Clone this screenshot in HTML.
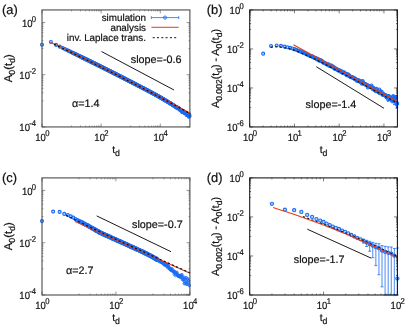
<!DOCTYPE html>
<html><head><meta charset="utf-8"><title>fig</title>
<style>
html,body{margin:0;padding:0;background:#fff;}
body{width:415px;height:336px;overflow:hidden;}
svg{display:block;filter:blur(0.42px);font-family:"Liberation Sans",sans-serif;}
text{fill:#111;stroke:#111;stroke-width:0.2px;text-rendering:geometricPrecision;}
</style></head><body>
<svg width="415" height="336" viewBox="0 0 415 336">
<rect width="415" height="336" fill="#fff"/>
<g fill="#1a6cf5" fill-opacity="0.3" stroke="#1a6cf5" stroke-width="1.1">
<circle cx="42.00" cy="44.80" r="1.50"/>
<circle cx="50.90" cy="42.00" r="1.50"/>
<circle cx="56.11" cy="44.90" r="1.50"/>
<circle cx="59.81" cy="46.65" r="1.50"/>
<circle cx="62.68" cy="48.02" r="1.50"/>
<circle cx="65.02" cy="49.14" r="1.50"/>
<circle cx="67.00" cy="50.08" r="1.50"/>
<circle cx="68.71" cy="50.91" r="1.50"/>
<circle cx="70.23" cy="51.63" r="1.50"/>
<circle cx="71.58" cy="52.29" r="1.50"/>
<circle cx="72.80" cy="52.88" r="1.50"/>
<circle cx="73.92" cy="53.42" r="1.50"/>
<circle cx="74.95" cy="53.91" r="1.50"/>
<circle cx="75.90" cy="54.37" r="1.50"/>
<circle cx="76.79" cy="54.80" r="1.50"/>
<circle cx="77.62" cy="55.20" r="1.50"/>
<circle cx="78.40" cy="55.58" r="1.50"/>
<circle cx="79.13" cy="55.94" r="1.50"/>
<circle cx="79.83" cy="56.28" r="1.50"/>
<circle cx="80.48" cy="56.60" r="1.50"/>
<circle cx="80.85" cy="56.78" r="1.50"/>
<circle cx="81.22" cy="56.96" r="1.50"/>
<circle cx="81.59" cy="57.14" r="1.50"/>
<circle cx="81.96" cy="57.32" r="1.50"/>
<circle cx="82.33" cy="57.50" r="1.50"/>
<circle cx="82.70" cy="57.68" r="1.50"/>
<circle cx="83.07" cy="57.86" r="1.50"/>
<circle cx="83.44" cy="58.04" r="1.50"/>
<circle cx="83.81" cy="58.22" r="1.50"/>
<circle cx="84.18" cy="58.40" r="1.50"/>
<circle cx="84.55" cy="58.58" r="1.50"/>
<circle cx="84.92" cy="58.76" r="1.50"/>
<circle cx="85.29" cy="58.94" r="1.50"/>
<circle cx="85.66" cy="59.12" r="1.50"/>
<circle cx="86.03" cy="59.31" r="1.50"/>
<circle cx="86.40" cy="59.49" r="1.50"/>
<circle cx="86.77" cy="59.67" r="1.50"/>
<circle cx="87.14" cy="59.85" r="1.50"/>
<circle cx="87.51" cy="60.03" r="1.50"/>
<circle cx="87.88" cy="60.21" r="1.50"/>
<circle cx="88.25" cy="60.39" r="1.50"/>
<circle cx="88.62" cy="60.57" r="1.50"/>
<circle cx="88.99" cy="60.76" r="1.50"/>
<circle cx="89.36" cy="60.94" r="1.50"/>
<circle cx="89.73" cy="61.12" r="1.50"/>
<circle cx="90.10" cy="61.30" r="1.50"/>
<circle cx="90.47" cy="61.48" r="1.50"/>
<circle cx="90.84" cy="61.67" r="1.50"/>
<circle cx="91.21" cy="61.85" r="1.50"/>
<circle cx="91.58" cy="62.03" r="1.50"/>
<circle cx="91.95" cy="62.21" r="1.50"/>
<circle cx="92.32" cy="62.39" r="1.50"/>
<circle cx="92.69" cy="62.58" r="1.50"/>
<circle cx="93.06" cy="62.76" r="1.50"/>
<circle cx="93.43" cy="62.94" r="1.50"/>
<circle cx="93.80" cy="63.12" r="1.50"/>
<circle cx="94.17" cy="63.31" r="1.50"/>
<circle cx="94.53" cy="63.49" r="1.50"/>
<circle cx="94.90" cy="63.67" r="1.50"/>
<circle cx="95.27" cy="63.86" r="1.50"/>
<circle cx="95.64" cy="64.04" r="1.50"/>
<circle cx="96.01" cy="64.22" r="1.50"/>
<circle cx="96.38" cy="64.41" r="1.50"/>
<circle cx="96.75" cy="64.59" r="1.50"/>
<circle cx="97.12" cy="64.77" r="1.50"/>
<circle cx="97.49" cy="64.96" r="1.50"/>
<circle cx="97.86" cy="65.14" r="1.50"/>
<circle cx="98.23" cy="65.32" r="1.50"/>
<circle cx="98.60" cy="65.51" r="1.50"/>
<circle cx="98.97" cy="65.69" r="1.50"/>
<circle cx="99.34" cy="65.87" r="1.50"/>
<circle cx="99.71" cy="66.06" r="1.50"/>
<circle cx="100.08" cy="66.24" r="1.50"/>
<circle cx="100.45" cy="66.42" r="1.50"/>
<circle cx="100.82" cy="66.61" r="1.50"/>
<circle cx="101.19" cy="66.79" r="1.50"/>
<circle cx="101.56" cy="66.98" r="1.50"/>
<circle cx="101.93" cy="67.16" r="1.50"/>
<circle cx="102.30" cy="67.35" r="1.50"/>
<circle cx="102.67" cy="67.53" r="1.50"/>
<circle cx="103.04" cy="67.71" r="1.50"/>
<circle cx="103.41" cy="67.90" r="1.50"/>
<circle cx="103.78" cy="68.08" r="1.50"/>
<circle cx="104.15" cy="68.27" r="1.50"/>
<circle cx="104.52" cy="68.45" r="1.50"/>
<circle cx="104.89" cy="68.64" r="1.50"/>
<circle cx="105.26" cy="68.82" r="1.50"/>
<circle cx="105.63" cy="69.01" r="1.50"/>
<circle cx="106.00" cy="69.19" r="1.50"/>
<circle cx="106.37" cy="69.38" r="1.50"/>
<circle cx="106.74" cy="69.56" r="1.50"/>
<circle cx="107.11" cy="69.75" r="1.50"/>
<circle cx="107.48" cy="69.93" r="1.50"/>
<circle cx="107.85" cy="70.12" r="1.50"/>
<circle cx="108.22" cy="70.31" r="1.50"/>
<circle cx="108.59" cy="70.49" r="1.50"/>
<circle cx="108.96" cy="70.68" r="1.50"/>
<circle cx="109.32" cy="70.86" r="1.50"/>
<circle cx="109.69" cy="71.05" r="1.50"/>
<circle cx="110.06" cy="71.23" r="1.50"/>
<circle cx="110.43" cy="71.42" r="1.50"/>
<circle cx="110.80" cy="71.61" r="1.50"/>
<circle cx="111.17" cy="71.79" r="1.50"/>
<circle cx="111.54" cy="71.98" r="1.50"/>
<circle cx="111.91" cy="72.17" r="1.50"/>
<circle cx="112.28" cy="72.35" r="1.50"/>
<circle cx="112.65" cy="72.54" r="1.50"/>
<circle cx="113.02" cy="72.72" r="1.50"/>
<circle cx="113.39" cy="72.91" r="1.50"/>
<circle cx="113.76" cy="73.10" r="1.50"/>
<circle cx="114.13" cy="73.29" r="1.50"/>
<circle cx="114.50" cy="73.47" r="1.50"/>
<circle cx="114.87" cy="73.66" r="1.50"/>
<circle cx="115.24" cy="73.85" r="1.50"/>
<circle cx="115.61" cy="74.03" r="1.50"/>
<circle cx="115.98" cy="74.22" r="1.50"/>
<circle cx="116.35" cy="74.41" r="1.50"/>
<circle cx="116.72" cy="74.59" r="1.50"/>
<circle cx="117.09" cy="74.78" r="1.50"/>
<circle cx="117.46" cy="74.97" r="1.50"/>
<circle cx="117.83" cy="75.16" r="1.50"/>
<circle cx="118.20" cy="75.34" r="1.50"/>
<circle cx="118.57" cy="75.53" r="1.50"/>
<circle cx="118.94" cy="75.72" r="1.50"/>
<circle cx="119.31" cy="75.91" r="1.50"/>
<circle cx="119.68" cy="76.10" r="1.50"/>
<circle cx="120.05" cy="76.28" r="1.50"/>
<circle cx="120.42" cy="76.47" r="1.50"/>
<circle cx="120.79" cy="76.66" r="1.50"/>
<circle cx="121.16" cy="76.85" r="1.50"/>
<circle cx="121.53" cy="77.04" r="1.50"/>
<circle cx="121.90" cy="77.22" r="1.50"/>
<circle cx="122.27" cy="77.41" r="1.50"/>
<circle cx="122.64" cy="77.60" r="1.50"/>
<circle cx="123.01" cy="77.79" r="1.50"/>
<circle cx="123.38" cy="77.98" r="1.50"/>
<circle cx="123.75" cy="78.17" r="1.50"/>
<circle cx="124.11" cy="78.36" r="1.50"/>
<circle cx="124.48" cy="78.55" r="1.50"/>
<circle cx="124.85" cy="78.73" r="1.50"/>
<circle cx="125.22" cy="78.92" r="1.50"/>
<circle cx="125.59" cy="79.11" r="1.50"/>
<circle cx="125.96" cy="79.30" r="1.50"/>
<circle cx="126.33" cy="79.49" r="1.50"/>
<circle cx="126.70" cy="79.68" r="1.50"/>
<circle cx="127.07" cy="79.87" r="1.50"/>
<circle cx="127.44" cy="80.06" r="1.50"/>
<circle cx="127.81" cy="80.25" r="1.50"/>
<circle cx="128.18" cy="80.44" r="1.50"/>
<circle cx="128.55" cy="80.63" r="1.50"/>
<circle cx="128.92" cy="80.82" r="1.50"/>
<circle cx="129.29" cy="81.01" r="1.50"/>
<circle cx="129.66" cy="81.20" r="1.50"/>
<circle cx="130.03" cy="81.39" r="1.50"/>
<circle cx="130.40" cy="81.58" r="1.50"/>
<circle cx="130.77" cy="81.77" r="1.50"/>
<circle cx="131.14" cy="81.96" r="1.50"/>
<circle cx="131.51" cy="82.15" r="1.50"/>
<circle cx="131.88" cy="82.34" r="1.50"/>
<circle cx="132.25" cy="82.53" r="1.50"/>
<circle cx="132.62" cy="82.72" r="1.50"/>
<circle cx="132.99" cy="82.91" r="1.50"/>
<circle cx="133.36" cy="83.10" r="1.50"/>
<circle cx="133.73" cy="83.29" r="1.50"/>
<circle cx="134.10" cy="83.48" r="1.50"/>
<circle cx="134.47" cy="83.67" r="1.50"/>
<circle cx="134.84" cy="83.86" r="1.50"/>
<circle cx="135.21" cy="84.06" r="1.50"/>
<circle cx="135.58" cy="84.25" r="1.50"/>
<circle cx="135.95" cy="84.44" r="1.50"/>
<circle cx="136.32" cy="84.63" r="1.50"/>
<circle cx="136.69" cy="84.82" r="1.50"/>
<circle cx="137.06" cy="85.01" r="1.50"/>
<circle cx="137.43" cy="85.20" r="1.50"/>
<circle cx="137.80" cy="85.39" r="1.50"/>
<circle cx="138.17" cy="85.59" r="1.50"/>
<circle cx="138.54" cy="85.78" r="1.50"/>
<circle cx="138.90" cy="85.97" r="1.50"/>
<circle cx="139.27" cy="86.16" r="1.50"/>
<circle cx="139.64" cy="86.35" r="1.50"/>
<circle cx="140.01" cy="86.55" r="1.50"/>
<circle cx="140.38" cy="86.74" r="1.50"/>
<circle cx="140.75" cy="86.93" r="1.50"/>
<circle cx="141.12" cy="87.12" r="1.50"/>
<circle cx="141.49" cy="87.31" r="1.50"/>
<circle cx="141.86" cy="87.51" r="1.50"/>
<circle cx="142.23" cy="87.70" r="1.50"/>
<circle cx="142.60" cy="87.89" r="1.50"/>
<circle cx="142.97" cy="88.09" r="1.50"/>
<circle cx="143.34" cy="88.28" r="1.50"/>
<circle cx="143.71" cy="88.47" r="1.50"/>
<circle cx="144.08" cy="88.66" r="1.50"/>
<circle cx="144.45" cy="88.86" r="1.50"/>
<circle cx="144.82" cy="89.05" r="1.50"/>
<circle cx="145.19" cy="89.24" r="1.50"/>
<circle cx="145.56" cy="89.44" r="1.50"/>
<circle cx="145.93" cy="89.63" r="1.50"/>
<circle cx="146.30" cy="89.82" r="1.50"/>
<circle cx="146.67" cy="90.02" r="1.50"/>
<circle cx="147.04" cy="90.21" r="1.50"/>
<circle cx="147.41" cy="90.40" r="1.50"/>
<circle cx="147.78" cy="90.60" r="1.50"/>
<circle cx="148.15" cy="90.79" r="1.50"/>
<circle cx="148.52" cy="90.98" r="1.50"/>
<circle cx="148.89" cy="91.18" r="1.50"/>
<circle cx="149.26" cy="91.37" r="1.50"/>
<circle cx="149.63" cy="91.57" r="1.50"/>
<circle cx="150.00" cy="91.76" r="1.50"/>
<circle cx="150.37" cy="91.95" r="1.50"/>
<circle cx="150.74" cy="92.15" r="1.50"/>
<circle cx="151.11" cy="92.34" r="1.50"/>
<circle cx="151.48" cy="92.54" r="1.50"/>
<circle cx="151.85" cy="92.74" r="1.50"/>
<circle cx="152.22" cy="92.94" r="1.50"/>
<circle cx="152.59" cy="93.13" r="1.50"/>
<circle cx="152.96" cy="93.33" r="1.50"/>
<circle cx="153.33" cy="93.53" r="1.50"/>
<circle cx="153.69" cy="93.73" r="1.50"/>
<circle cx="154.06" cy="93.93" r="1.50"/>
<circle cx="154.43" cy="94.13" r="1.50"/>
<circle cx="154.80" cy="94.34" r="1.50"/>
<circle cx="155.17" cy="94.54" r="1.50"/>
<circle cx="155.54" cy="94.74" r="1.50"/>
<circle cx="155.91" cy="94.95" r="1.50"/>
<circle cx="156.28" cy="95.15" r="1.50"/>
<circle cx="156.65" cy="95.36" r="1.50"/>
<circle cx="157.02" cy="95.56" r="1.50"/>
<circle cx="157.39" cy="95.77" r="1.50"/>
<circle cx="157.76" cy="95.98" r="1.50"/>
<circle cx="158.13" cy="96.18" r="1.50"/>
<circle cx="158.50" cy="96.39" r="1.50"/>
<circle cx="158.87" cy="96.60" r="1.50"/>
<circle cx="159.24" cy="96.81" r="1.50"/>
<circle cx="159.61" cy="97.02" r="1.50"/>
<circle cx="159.98" cy="97.23" r="1.50"/>
<circle cx="160.35" cy="97.45" r="1.50"/>
<circle cx="160.72" cy="97.66" r="1.50"/>
<circle cx="161.09" cy="97.87" r="1.50"/>
<circle cx="161.46" cy="98.08" r="1.50"/>
<circle cx="161.83" cy="98.30" r="1.50"/>
<circle cx="162.20" cy="98.51" r="1.50"/>
<circle cx="162.57" cy="98.73" r="1.50"/>
<circle cx="162.94" cy="98.95" r="1.50"/>
<circle cx="163.31" cy="99.16" r="1.50"/>
<circle cx="163.68" cy="99.38" r="1.50"/>
<circle cx="164.05" cy="99.60" r="1.50"/>
<circle cx="164.42" cy="99.82" r="1.50"/>
<circle cx="164.79" cy="100.04" r="1.50"/>
<circle cx="165.16" cy="100.26" r="1.50"/>
<circle cx="165.53" cy="100.48" r="1.50"/>
<circle cx="165.90" cy="100.70" r="1.50"/>
<circle cx="166.27" cy="100.92" r="1.50"/>
<circle cx="166.64" cy="101.14" r="1.50"/>
<circle cx="167.01" cy="101.37" r="1.50"/>
<circle cx="167.38" cy="101.59" r="1.50"/>
<circle cx="167.75" cy="101.81" r="1.50"/>
<circle cx="168.12" cy="102.04" r="1.50"/>
<circle cx="168.48" cy="102.26" r="1.50"/>
<circle cx="168.85" cy="102.49" r="1.50"/>
<circle cx="169.22" cy="102.72" r="1.50"/>
<circle cx="169.59" cy="102.95" r="1.50"/>
<circle cx="169.96" cy="103.17" r="1.50"/>
<circle cx="170.33" cy="103.40" r="1.50"/>
<circle cx="170.70" cy="103.63" r="1.50"/>
<circle cx="171.07" cy="103.86" r="1.50"/>
<circle cx="171.44" cy="104.09" r="1.50"/>
<circle cx="171.81" cy="104.32" r="1.50"/>
<circle cx="172.18" cy="104.55" r="1.50"/>
<circle cx="172.55" cy="104.80" r="1.50"/>
<circle cx="172.92" cy="105.01" r="1.50"/>
<circle cx="173.29" cy="105.24" r="1.50"/>
<circle cx="173.66" cy="105.41" r="1.50"/>
<circle cx="174.03" cy="105.71" r="1.50"/>
<circle cx="174.40" cy="106.10" r="1.50"/>
<circle cx="174.77" cy="106.26" r="1.50"/>
<circle cx="175.14" cy="106.60" r="1.50"/>
<circle cx="175.51" cy="106.72" r="1.50"/>
<circle cx="175.88" cy="106.99" r="1.50"/>
<circle cx="176.25" cy="107.19" r="1.50"/>
<circle cx="176.62" cy="107.01" r="1.50"/>
<circle cx="176.99" cy="107.85" r="1.50"/>
<circle cx="177.36" cy="108.01" r="1.50"/>
<circle cx="177.73" cy="108.26" r="1.50"/>
<circle cx="178.10" cy="107.84" r="1.50"/>
<circle cx="178.47" cy="108.04" r="1.50"/>
<circle cx="178.84" cy="108.54" r="1.50"/>
<circle cx="179.21" cy="108.92" r="1.50"/>
<circle cx="179.58" cy="109.45" r="1.50"/>
<circle cx="179.95" cy="109.56" r="1.50"/>
<circle cx="180.32" cy="110.04" r="1.50"/>
<circle cx="180.69" cy="109.79" r="1.50"/>
<circle cx="181.06" cy="110.46" r="1.50"/>
<circle cx="181.43" cy="110.75" r="1.50"/>
<circle cx="181.80" cy="110.49" r="1.50"/>
<circle cx="182.17" cy="111.94" r="1.50"/>
<circle cx="182.54" cy="111.61" r="1.50"/>
<circle cx="182.91" cy="112.22" r="1.50"/>
<circle cx="183.27" cy="111.47" r="1.50"/>
<circle cx="183.64" cy="111.64" r="1.50"/>
<circle cx="184.01" cy="112.12" r="1.50"/>
<circle cx="184.38" cy="112.51" r="1.50"/>
<circle cx="184.75" cy="113.23" r="1.50"/>
<circle cx="185.12" cy="113.25" r="1.50"/>
<circle cx="185.49" cy="113.04" r="1.50"/>
<circle cx="185.86" cy="112.93" r="1.50"/>
<circle cx="186.23" cy="113.48" r="1.50"/>
<circle cx="186.60" cy="115.00" r="1.50"/>
<circle cx="186.97" cy="113.76" r="1.50"/>
<circle cx="187.34" cy="114.81" r="1.50"/>
<circle cx="187.71" cy="115.22" r="1.50"/>
<circle cx="188.08" cy="113.95" r="1.50"/>
<circle cx="188.45" cy="115.44" r="1.50"/>
<circle cx="188.82" cy="116.76" r="1.50"/>
<circle cx="189.19" cy="114.20" r="1.50"/>
<circle cx="189.56" cy="115.91" r="1.50"/>
</g>
<path d="M50.60 42.30L54.09 43.94L57.57 45.59L61.06 47.25L64.54 48.91L68.03 50.58L71.51 52.25L75.00 53.93L78.48 55.62L81.97 57.32L85.45 59.02L88.94 60.73L92.42 62.45L95.91 64.17L99.39 65.90L102.88 67.63L106.36 69.38L109.84 71.12L113.33 72.88L116.81 74.64L120.30 76.41L123.78 78.19L127.27 79.97L130.75 81.76L134.24 83.56L137.72 85.36L141.21 87.17L144.69 88.98L148.18 90.81L151.67 92.64L155.15 94.47L158.64 96.31L162.12 98.16L165.60 100.02L169.09 101.88L172.57 103.75L176.06 105.63L179.54 107.51L183.03 109.40L186.52 111.30L190.00 113.20" stroke="#e63c14" stroke-width="1.15" fill="none"/>
<path d="M54.00 44.20L57.40 45.81L60.80 47.42L64.20 49.05L67.60 50.67L71.00 52.31L74.40 53.95L77.80 55.59L81.20 57.25L84.60 58.91L88.00 60.57L91.40 62.24L94.80 63.92L98.20 65.61L101.60 67.30L105.00 68.99L108.40 70.70L111.80 72.41L115.20 74.13L118.60 75.85L122.00 77.58L125.40 79.31L128.80 81.06L132.20 82.80L135.60 84.56L139.00 86.32L142.40 88.09L145.80 89.86L149.20 91.64L152.60 93.43L156.00 95.22L159.40 97.02L162.80 98.83L166.20 100.64L169.60 102.46L173.00 104.28L176.40 106.11L179.80 107.95L183.20 109.79L186.60 111.64L190.00 113.50" stroke="#111" stroke-width="1.20" fill="none" stroke-dasharray="2.1 2.4"/>
<line x1="101.50" y1="51.50" x2="174.00" y2="90.00" stroke="#1a1a1a" stroke-width="1.00"/>
<path d="M42.00 126.95L42.00 123.55M42.00 9.95L42.00 13.35M71.58 126.95L71.58 125.55M71.58 9.95L71.58 11.35M80.48 126.95L80.48 125.55M80.48 9.95L80.48 11.35M85.69 126.95L85.69 125.55M85.69 9.95L85.69 11.35M89.39 126.95L89.39 125.55M89.39 9.95L89.39 11.35M92.26 126.95L92.26 125.55M92.26 9.95L92.26 11.35M94.60 126.95L94.60 125.55M94.60 9.95L94.60 11.35M96.58 126.95L96.58 125.55M96.58 9.95L96.58 11.35M98.29 126.95L98.29 125.55M98.29 9.95L98.29 11.35M99.81 126.95L99.81 125.55M99.81 9.95L99.81 11.35M101.16 126.95L101.16 123.55M101.16 9.95L101.16 13.35M130.74 126.95L130.74 125.55M130.74 9.95L130.74 11.35M139.64 126.95L139.64 125.55M139.64 9.95L139.64 11.35M144.85 126.95L144.85 125.55M144.85 9.95L144.85 11.35M148.55 126.95L148.55 125.55M148.55 9.95L148.55 11.35M151.42 126.95L151.42 125.55M151.42 9.95L151.42 11.35M153.76 126.95L153.76 125.55M153.76 9.95L153.76 11.35M155.74 126.95L155.74 125.55M155.74 9.95L155.74 11.35M157.45 126.95L157.45 125.55M157.45 9.95L157.45 11.35M158.97 126.95L158.97 125.55M158.97 9.95L158.97 11.35M160.32 126.95L160.32 123.55M160.32 9.95L160.32 13.35M42.00 126.95L45.40 126.95M189.90 126.95L186.50 126.95M42.00 100.82L43.40 100.82M189.90 100.82L188.50 100.82M42.00 92.95L43.40 92.95M189.90 92.95L188.50 92.95M42.00 88.35L43.40 88.35M189.90 88.35L188.50 88.35M42.00 85.08L43.40 85.08M189.90 85.08L188.50 85.08M42.00 82.55L43.40 82.55M189.90 82.55L188.50 82.55M42.00 80.48L43.40 80.48M189.90 80.48L188.50 80.48M42.00 78.73L43.40 78.73M189.90 78.73L188.50 78.73M42.00 77.22L43.40 77.22M189.90 77.22L188.50 77.22M42.00 75.88L43.40 75.88M189.90 75.88L188.50 75.88M42.00 74.68L45.40 74.68M189.90 74.68L186.50 74.68M42.00 48.55L43.40 48.55M189.90 48.55L188.50 48.55M42.00 40.68L43.40 40.68M189.90 40.68L188.50 40.68M42.00 36.08L43.40 36.08M189.90 36.08L188.50 36.08M42.00 32.82L43.40 32.82M189.90 32.82L188.50 32.82M42.00 30.29L43.40 30.29M189.90 30.29L188.50 30.29M42.00 28.22L43.40 28.22M189.90 28.22L188.50 28.22M42.00 26.47L43.40 26.47M189.90 26.47L188.50 26.47M42.00 24.95L43.40 24.95M189.90 24.95L188.50 24.95M42.00 23.61L43.40 23.61M189.90 23.61L188.50 23.61M42.00 22.42L45.40 22.42M189.90 22.42L186.50 22.42" stroke="#444" stroke-width="0.55" fill="none"/>
<rect x="42.00" y="9.95" width="147.90" height="117.00" fill="none" stroke="#444" stroke-width="1.05"/>
<text transform="translate(36.10 26.82) scale(0.915 1)" text-anchor="end" font-size="10.40">10<tspan dx="-0.7" dy="-5.0" font-size="8.40">0</tspan></text>
<text transform="translate(36.10 79.08) scale(0.915 1)" text-anchor="end" font-size="10.40">10<tspan dx="-0.7" dy="-5.0" font-size="8.40">-2</tspan></text>
<text transform="translate(36.10 131.35) scale(0.915 1)" text-anchor="end" font-size="10.40">10<tspan dx="-0.7" dy="-5.0" font-size="8.40">-4</tspan></text>
<text transform="translate(42.30 141.05) scale(0.915 1)" text-anchor="middle" font-size="10.40">10<tspan dx="-0.7" dy="-5.0" font-size="8.40">0</tspan></text>
<text transform="translate(101.46 141.05) scale(0.915 1)" text-anchor="middle" font-size="10.40">10<tspan dx="-0.7" dy="-5.0" font-size="8.40">2</tspan></text>
<text transform="translate(160.62 141.05) scale(0.915 1)" text-anchor="middle" font-size="10.40">10<tspan dx="-0.7" dy="-5.0" font-size="8.40">4</tspan></text>
<text x="146.00" y="21.20" font-size="9.85" text-anchor="end">simulation</text>
<text x="146.00" y="31.10" font-size="9.85" text-anchor="end">analysis</text>
<text x="146.00" y="40.60" font-size="9.85" text-anchor="end">inv. Laplace trans.</text>
<line x1="151.40" y1="17.60" x2="178.70" y2="17.60" stroke="#1a6cf5" stroke-width="0.80"/>
<line x1="151.40" y1="16.20" x2="151.40" y2="19.00" stroke="#1a6cf5" stroke-width="0.80"/>
<line x1="178.70" y1="16.20" x2="178.70" y2="19.00" stroke="#1a6cf5" stroke-width="0.80"/>
<circle cx="165" cy="17.60" r="1.6" fill="none" stroke="#1a6cf5" stroke-width="0.9"/>
<line x1="151.40" y1="27.30" x2="178.70" y2="27.30" stroke="#e63c14" stroke-width="1.00"/>
<line x1="152.7" y1="37.7" x2="177" y2="37.7" stroke="#111" stroke-width="1.0" stroke-dasharray="2 2.3"/>
<text x="130.80" y="62.50" font-size="10.80" text-anchor="start">slope=-0.6</text>
<text x="72.00" y="107.00" font-size="10.80" text-anchor="start">α=1.4</text>
<path d="M384.02 94.15L384.02 95.48M382.82 94.15L385.22 94.15M382.82 95.48L385.22 95.48M384.62 94.95L384.62 96.50M383.42 94.95L385.82 94.95M383.42 96.50L385.82 96.50M385.22 94.59L385.22 96.37M384.02 94.59L386.42 94.59M384.02 96.37L386.42 96.37M385.81 94.62L385.81 96.62M384.61 94.62L387.01 94.62M384.61 96.62L387.01 96.62M386.41 96.39L386.41 98.62M385.21 96.39L387.61 96.39M385.21 98.62L387.61 98.62M387.01 96.19L387.01 98.64M385.81 96.19L388.21 96.19M385.81 98.64L388.21 98.64M387.60 95.15L387.60 97.83M386.40 95.15L388.80 95.15M386.40 97.83L388.80 97.83M388.20 98.33L388.20 101.23M387.00 98.33L389.40 98.33M387.00 101.23L389.40 101.23M388.80 94.80L388.80 97.92M387.60 94.80L390.00 94.80M387.60 97.92L390.00 97.92M389.39 97.12L389.39 100.48M388.19 97.12L390.59 97.12M388.19 100.48L390.59 100.48M389.99 96.09L389.99 99.67M388.79 96.09L391.19 96.09M388.79 99.67L391.19 99.67M390.59 96.81L390.59 100.62M389.39 96.81L391.79 96.81M389.39 100.62L391.79 100.62M391.18 97.87L391.18 101.90M389.98 97.87L392.38 97.87M389.98 101.90L392.38 101.90M391.78 97.47L391.78 101.72M390.58 97.47L392.98 97.47M390.58 101.72L392.98 101.72M392.38 98.41L392.38 102.89M391.18 98.41L393.58 98.41M391.18 102.89L393.58 102.89M392.97 94.96L392.97 99.67M391.77 94.96L394.17 94.96M391.77 99.67L394.17 99.67M393.57 95.06L393.57 99.99M392.37 95.06L394.77 95.06M392.37 99.99L394.77 99.99M394.16 99.31L394.16 104.46M392.96 99.31L395.36 99.31M392.96 104.46L395.36 104.46M394.76 96.34L394.76 101.72M393.56 96.34L395.96 96.34M393.56 101.72L395.96 101.72M395.36 96.33L395.36 101.94M394.16 96.33L396.56 96.33M394.16 101.94L396.56 101.94M395.95 95.44L395.95 101.27M394.75 95.44L397.15 95.44M394.75 101.27L397.15 101.27M396.55 102.14L396.55 108.19M395.35 102.14L397.75 102.14M395.35 108.19L397.75 108.19M397.15 101.21L397.15 107.49M395.95 101.21L398.35 101.21M395.95 107.49L398.35 107.49" stroke="#1a6cf5" stroke-width="0.8" fill="none"/>
<g fill="#1a6cf5" fill-opacity="0.3" stroke="#1a6cf5" stroke-width="1.1">
<circle cx="263.17" cy="53.63" r="1.50"/>
<circle cx="271.05" cy="45.97" r="1.50"/>
<circle cx="276.64" cy="45.54" r="1.50"/>
<circle cx="280.97" cy="45.88" r="1.50"/>
<circle cx="284.52" cy="46.60" r="1.50"/>
<circle cx="287.51" cy="47.25" r="1.50"/>
<circle cx="290.11" cy="47.85" r="1.50"/>
<circle cx="292.40" cy="48.51" r="1.50"/>
<circle cx="294.44" cy="49.13" r="1.50"/>
<circle cx="296.30" cy="49.86" r="1.50"/>
<circle cx="297.99" cy="50.52" r="1.50"/>
<circle cx="299.54" cy="51.12" r="1.50"/>
<circle cx="300.98" cy="51.70" r="1.50"/>
<circle cx="302.32" cy="52.13" r="1.50"/>
<circle cx="303.58" cy="52.94" r="1.50"/>
<circle cx="304.75" cy="53.33" r="1.50"/>
<circle cx="305.87" cy="53.51" r="1.50"/>
<circle cx="306.92" cy="54.45" r="1.50"/>
<circle cx="307.91" cy="54.85" r="1.50"/>
<circle cx="308.86" cy="55.32" r="1.50"/>
<circle cx="309.76" cy="55.83" r="1.50"/>
<circle cx="310.63" cy="55.99" r="1.50"/>
<circle cx="311.46" cy="56.35" r="1.50"/>
<circle cx="312.25" cy="56.40" r="1.50"/>
<circle cx="313.01" cy="57.24" r="1.50"/>
<circle cx="313.74" cy="57.30" r="1.50"/>
<circle cx="314.45" cy="57.68" r="1.50"/>
<circle cx="315.13" cy="57.81" r="1.50"/>
<circle cx="315.79" cy="58.21" r="1.50"/>
<circle cx="316.43" cy="58.63" r="1.50"/>
<circle cx="317.05" cy="59.42" r="1.50"/>
<circle cx="317.64" cy="58.82" r="1.50"/>
<circle cx="318.22" cy="59.26" r="1.50"/>
<circle cx="318.79" cy="60.00" r="1.50"/>
<circle cx="319.33" cy="60.61" r="1.50"/>
<circle cx="319.87" cy="60.63" r="1.50"/>
<circle cx="320.39" cy="60.18" r="1.50"/>
<circle cx="320.89" cy="60.25" r="1.50"/>
<circle cx="321.38" cy="61.32" r="1.50"/>
<circle cx="321.98" cy="61.29" r="1.50"/>
<circle cx="322.58" cy="61.47" r="1.50"/>
<circle cx="323.17" cy="62.39" r="1.50"/>
<circle cx="323.77" cy="62.73" r="1.50"/>
<circle cx="324.36" cy="62.74" r="1.50"/>
<circle cx="324.96" cy="63.06" r="1.50"/>
<circle cx="325.56" cy="63.43" r="1.50"/>
<circle cx="326.15" cy="64.12" r="1.50"/>
<circle cx="326.75" cy="64.13" r="1.50"/>
<circle cx="327.35" cy="64.41" r="1.50"/>
<circle cx="327.94" cy="64.74" r="1.50"/>
<circle cx="328.54" cy="64.33" r="1.50"/>
<circle cx="329.14" cy="65.62" r="1.50"/>
<circle cx="329.73" cy="65.83" r="1.50"/>
<circle cx="330.33" cy="66.00" r="1.50"/>
<circle cx="330.93" cy="65.41" r="1.50"/>
<circle cx="331.52" cy="66.21" r="1.50"/>
<circle cx="332.12" cy="67.06" r="1.50"/>
<circle cx="332.72" cy="66.39" r="1.50"/>
<circle cx="333.31" cy="67.31" r="1.50"/>
<circle cx="333.91" cy="68.08" r="1.50"/>
<circle cx="334.51" cy="67.50" r="1.50"/>
<circle cx="335.10" cy="68.95" r="1.50"/>
<circle cx="335.70" cy="68.85" r="1.50"/>
<circle cx="336.30" cy="68.89" r="1.50"/>
<circle cx="336.89" cy="69.40" r="1.50"/>
<circle cx="337.49" cy="69.85" r="1.50"/>
<circle cx="338.09" cy="69.94" r="1.50"/>
<circle cx="338.68" cy="70.69" r="1.50"/>
<circle cx="339.28" cy="70.24" r="1.50"/>
<circle cx="339.88" cy="70.65" r="1.50"/>
<circle cx="340.47" cy="71.60" r="1.50"/>
<circle cx="341.07" cy="71.47" r="1.50"/>
<circle cx="341.67" cy="71.37" r="1.50"/>
<circle cx="342.26" cy="72.50" r="1.50"/>
<circle cx="342.86" cy="73.06" r="1.50"/>
<circle cx="343.46" cy="72.49" r="1.50"/>
<circle cx="344.05" cy="72.35" r="1.50"/>
<circle cx="344.65" cy="73.25" r="1.50"/>
<circle cx="345.25" cy="73.55" r="1.50"/>
<circle cx="345.84" cy="73.79" r="1.50"/>
<circle cx="346.44" cy="74.93" r="1.50"/>
<circle cx="347.03" cy="74.04" r="1.50"/>
<circle cx="347.63" cy="75.50" r="1.50"/>
<circle cx="348.23" cy="74.52" r="1.50"/>
<circle cx="348.82" cy="75.07" r="1.50"/>
<circle cx="349.42" cy="76.12" r="1.50"/>
<circle cx="350.02" cy="76.69" r="1.50"/>
<circle cx="350.61" cy="76.86" r="1.50"/>
<circle cx="351.21" cy="76.90" r="1.50"/>
<circle cx="351.81" cy="77.10" r="1.50"/>
<circle cx="352.40" cy="77.42" r="1.50"/>
<circle cx="353.00" cy="77.97" r="1.50"/>
<circle cx="353.60" cy="77.85" r="1.50"/>
<circle cx="354.19" cy="78.42" r="1.50"/>
<circle cx="354.79" cy="78.90" r="1.50"/>
<circle cx="355.39" cy="78.88" r="1.50"/>
<circle cx="355.98" cy="79.64" r="1.50"/>
<circle cx="356.58" cy="79.85" r="1.50"/>
<circle cx="357.18" cy="81.05" r="1.50"/>
<circle cx="357.77" cy="80.36" r="1.50"/>
<circle cx="358.37" cy="80.23" r="1.50"/>
<circle cx="358.97" cy="80.58" r="1.50"/>
<circle cx="359.56" cy="81.13" r="1.50"/>
<circle cx="360.16" cy="82.05" r="1.50"/>
<circle cx="360.76" cy="81.57" r="1.50"/>
<circle cx="361.35" cy="82.36" r="1.50"/>
<circle cx="361.95" cy="83.64" r="1.50"/>
<circle cx="362.55" cy="81.07" r="1.50"/>
<circle cx="363.14" cy="82.34" r="1.50"/>
<circle cx="363.74" cy="83.58" r="1.50"/>
<circle cx="364.34" cy="84.01" r="1.50"/>
<circle cx="364.93" cy="84.23" r="1.50"/>
<circle cx="365.53" cy="84.09" r="1.50"/>
<circle cx="366.13" cy="85.17" r="1.50"/>
<circle cx="366.72" cy="85.24" r="1.50"/>
<circle cx="367.32" cy="84.99" r="1.50"/>
<circle cx="367.92" cy="87.43" r="1.50"/>
<circle cx="368.51" cy="86.27" r="1.50"/>
<circle cx="369.11" cy="85.93" r="1.50"/>
<circle cx="369.71" cy="86.59" r="1.50"/>
<circle cx="370.30" cy="86.82" r="1.50"/>
<circle cx="370.90" cy="87.26" r="1.50"/>
<circle cx="371.49" cy="85.56" r="1.50"/>
<circle cx="372.09" cy="87.59" r="1.50"/>
<circle cx="372.69" cy="89.07" r="1.50"/>
<circle cx="373.28" cy="87.70" r="1.50"/>
<circle cx="373.88" cy="88.88" r="1.50"/>
<circle cx="374.48" cy="90.02" r="1.50"/>
<circle cx="375.07" cy="90.27" r="1.50"/>
<circle cx="375.67" cy="91.12" r="1.50"/>
<circle cx="376.27" cy="88.84" r="1.50"/>
<circle cx="376.86" cy="90.27" r="1.50"/>
<circle cx="377.46" cy="90.60" r="1.50"/>
<circle cx="378.06" cy="91.73" r="1.50"/>
<circle cx="378.65" cy="92.46" r="1.50"/>
<circle cx="379.25" cy="89.56" r="1.50"/>
<circle cx="379.85" cy="93.12" r="1.50"/>
<circle cx="380.44" cy="91.25" r="1.50"/>
<circle cx="381.04" cy="93.43" r="1.50"/>
<circle cx="381.64" cy="91.84" r="1.50"/>
<circle cx="382.23" cy="93.64" r="1.50"/>
<circle cx="382.83" cy="94.88" r="1.50"/>
<circle cx="383.43" cy="93.99" r="1.50"/>
<circle cx="384.02" cy="94.63" r="1.50"/>
<circle cx="384.62" cy="95.51" r="1.50"/>
<circle cx="385.22" cy="95.24" r="1.50"/>
<circle cx="385.81" cy="95.35" r="1.50"/>
<circle cx="386.41" cy="97.20" r="1.50"/>
<circle cx="387.01" cy="97.08" r="1.50"/>
<circle cx="387.60" cy="96.12" r="1.50"/>
<circle cx="388.20" cy="99.39" r="1.50"/>
<circle cx="388.80" cy="95.93" r="1.50"/>
<circle cx="389.39" cy="98.34" r="1.50"/>
<circle cx="389.99" cy="97.39" r="1.50"/>
<circle cx="390.59" cy="98.20" r="1.50"/>
<circle cx="391.18" cy="99.34" r="1.50"/>
<circle cx="391.78" cy="99.01" r="1.50"/>
<circle cx="392.38" cy="100.04" r="1.50"/>
<circle cx="392.97" cy="96.67" r="1.50"/>
<circle cx="393.57" cy="96.86" r="1.50"/>
<circle cx="394.16" cy="101.18" r="1.50"/>
<circle cx="394.76" cy="98.30" r="1.50"/>
<circle cx="395.36" cy="98.37" r="1.50"/>
<circle cx="395.95" cy="97.56" r="1.50"/>
<circle cx="396.55" cy="104.34" r="1.50"/>
<circle cx="397.15" cy="103.49" r="1.50"/>
</g>
<path d="M270.70 47.20L272.29 47.05L273.88 46.91L275.46 46.76L277.05 46.76L278.64 46.87L280.22 46.97L281.81 47.25L283.40 47.57L284.99 47.90L286.57 48.24L288.16 48.59L289.75 48.94L291.34 49.40L292.93 49.86L294.51 50.36L296.10 50.98L297.69 51.60L299.27 52.22L300.86 52.87L302.45 53.55L304.04 54.24L305.62 54.92L307.21 55.60L308.80 56.28L310.39 56.99L311.97 57.77L313.56 58.56L315.15 59.34L316.74 60.12L318.32 60.91L319.91 61.69L321.50 62.47L323.09 63.26L324.68 64.04L326.26 64.86L327.85 65.70L329.44 66.54L331.02 67.37L332.61 68.21L334.20 69.05L335.79 69.88L337.38 70.72L338.96 71.55L340.55 72.39L342.14 73.21L343.73 74.03L345.31 74.86L346.90 75.68L348.49 76.50L350.07 77.33L351.66 78.15L353.25 78.97L354.84 79.80L356.42 80.63L358.01 81.50L359.60 82.36L361.19 83.22L362.77 84.09L364.36 84.95L365.95 85.82L367.54 86.68L369.12 87.54L370.71 88.41L372.30 89.27L373.89 90.14L375.48 91.00L377.06 91.87L378.65 92.73L380.24 93.59L381.82 94.46L383.41 95.32L385.00 96.19L386.59 97.05L388.17 97.91L389.76 98.78L391.35 99.64L392.94 100.51L394.52 101.37L396.11 102.24L397.70 103.10" stroke="#111" stroke-width="1.20" fill="none" stroke-dasharray="2.1 2.4"/>
<path d="M293.40 44.80L397.70 101.80" stroke="#e63c14" stroke-width="1.15" fill="none"/>
<line x1="316.30" y1="66.70" x2="384.00" y2="108.30" stroke="#1a1a1a" stroke-width="1.00"/>
<path d="M249.70 126.95L249.70 123.55M249.70 9.95L249.70 13.35M263.17 126.95L263.17 125.55M263.17 9.95L263.17 11.35M271.05 126.95L271.05 125.55M271.05 9.95L271.05 11.35M276.64 126.95L276.64 125.55M276.64 9.95L276.64 11.35M280.97 126.95L280.97 125.55M280.97 9.95L280.97 11.35M284.52 126.95L284.52 125.55M284.52 9.95L284.52 11.35M287.51 126.95L287.51 125.55M287.51 9.95L287.51 11.35M290.11 126.95L290.11 125.55M290.11 9.95L290.11 11.35M292.40 126.95L292.40 125.55M292.40 9.95L292.40 11.35M294.44 126.95L294.44 123.55M294.44 9.95L294.44 13.35M307.91 126.95L307.91 125.55M307.91 9.95L307.91 11.35M315.79 126.95L315.79 125.55M315.79 9.95L315.79 11.35M321.38 126.95L321.38 125.55M321.38 9.95L321.38 11.35M325.72 126.95L325.72 125.55M325.72 9.95L325.72 11.35M329.26 126.95L329.26 125.55M329.26 9.95L329.26 11.35M332.26 126.95L332.26 125.55M332.26 9.95L332.26 11.35M334.85 126.95L334.85 125.55M334.85 9.95L334.85 11.35M337.14 126.95L337.14 125.55M337.14 9.95L337.14 11.35M339.19 126.95L339.19 123.55M339.19 9.95L339.19 13.35M352.66 126.95L352.66 125.55M352.66 9.95L352.66 11.35M360.54 126.95L360.54 125.55M360.54 9.95L360.54 11.35M366.13 126.95L366.13 125.55M366.13 9.95L366.13 11.35M370.46 126.95L370.46 125.55M370.46 9.95L370.46 11.35M374.00 126.95L374.00 125.55M374.00 9.95L374.00 11.35M377.00 126.95L377.00 125.55M377.00 9.95L377.00 11.35M379.59 126.95L379.59 125.55M379.59 9.95L379.59 11.35M381.88 126.95L381.88 125.55M381.88 9.95L381.88 11.35M383.93 126.95L383.93 123.55M383.93 9.95L383.93 13.35M249.70 126.95L253.10 126.95M397.40 126.95L394.00 126.95M249.70 107.45L251.10 107.45M397.40 107.45L396.00 107.45M249.70 101.58L251.10 101.58M397.40 101.58L396.00 101.58M249.70 98.15L251.10 98.15M397.40 98.15L396.00 98.15M249.70 95.71L251.10 95.71M397.40 95.71L396.00 95.71M249.70 93.82L251.10 93.82M397.40 93.82L396.00 93.82M249.70 92.28L251.10 92.28M397.40 92.28L396.00 92.28M249.70 90.97L251.10 90.97M397.40 90.97L396.00 90.97M249.70 89.84L251.10 89.84M397.40 89.84L396.00 89.84M249.70 88.84L251.10 88.84M397.40 88.84L396.00 88.84M249.70 87.95L253.10 87.95M397.40 87.95L394.00 87.95M249.70 68.45L251.10 68.45M397.40 68.45L396.00 68.45M249.70 62.58L251.10 62.58M397.40 62.58L396.00 62.58M249.70 59.15L251.10 59.15M397.40 59.15L396.00 59.15M249.70 56.71L251.10 56.71M397.40 56.71L396.00 56.71M249.70 54.82L251.10 54.82M397.40 54.82L396.00 54.82M249.70 53.28L251.10 53.28M397.40 53.28L396.00 53.28M249.70 51.97L251.10 51.97M397.40 51.97L396.00 51.97M249.70 50.84L251.10 50.84M397.40 50.84L396.00 50.84M249.70 49.84L251.10 49.84M397.40 49.84L396.00 49.84M249.70 48.95L253.10 48.95M397.40 48.95L394.00 48.95M249.70 29.45L251.10 29.45M397.40 29.45L396.00 29.45M249.70 23.58L251.10 23.58M397.40 23.58L396.00 23.58M249.70 20.15L251.10 20.15M397.40 20.15L396.00 20.15M249.70 17.71L251.10 17.71M397.40 17.71L396.00 17.71M249.70 15.82L251.10 15.82M397.40 15.82L396.00 15.82M249.70 14.28L251.10 14.28M397.40 14.28L396.00 14.28M249.70 12.97L251.10 12.97M397.40 12.97L396.00 12.97M249.70 11.84L251.10 11.84M397.40 11.84L396.00 11.84M249.70 10.84L251.10 10.84M397.40 10.84L396.00 10.84M249.70 9.95L253.10 9.95M397.40 9.95L394.00 9.95" stroke="#111" stroke-width="0.55" fill="none"/>
<rect x="249.70" y="9.95" width="147.70" height="117.00" fill="none" stroke="#111" stroke-width="1.05"/>
<text transform="translate(243.80 14.35) scale(0.915 1)" text-anchor="end" font-size="10.40">10<tspan dx="-0.7" dy="-5.0" font-size="8.40">0</tspan></text>
<text transform="translate(243.80 53.35) scale(0.915 1)" text-anchor="end" font-size="10.40">10<tspan dx="-0.7" dy="-5.0" font-size="8.40">-2</tspan></text>
<text transform="translate(243.80 92.35) scale(0.915 1)" text-anchor="end" font-size="10.40">10<tspan dx="-0.7" dy="-5.0" font-size="8.40">-4</tspan></text>
<text transform="translate(243.80 131.35) scale(0.915 1)" text-anchor="end" font-size="10.40">10<tspan dx="-0.7" dy="-5.0" font-size="8.40">-6</tspan></text>
<text transform="translate(250.00 141.05) scale(0.915 1)" text-anchor="middle" font-size="10.40">10<tspan dx="-0.7" dy="-5.0" font-size="8.40">0</tspan></text>
<text transform="translate(294.74 141.05) scale(0.915 1)" text-anchor="middle" font-size="10.40">10<tspan dx="-0.7" dy="-5.0" font-size="8.40">1</tspan></text>
<text transform="translate(339.49 141.05) scale(0.915 1)" text-anchor="middle" font-size="10.40">10<tspan dx="-0.7" dy="-5.0" font-size="8.40">2</tspan></text>
<text transform="translate(384.23 141.05) scale(0.915 1)" text-anchor="middle" font-size="10.40">10<tspan dx="-0.7" dy="-5.0" font-size="8.40">3</tspan></text>
<text x="305.60" y="108.20" font-size="10.80" text-anchor="start">slope=-1.4</text>
<g fill="#1a6cf5" fill-opacity="0.3" stroke="#1a6cf5" stroke-width="1.1">
<circle cx="42.00" cy="221.10" r="1.50"/>
<circle cx="53.13" cy="211.60" r="1.50"/>
<circle cx="59.64" cy="211.90" r="1.50"/>
<circle cx="64.26" cy="213.90" r="1.50"/>
<circle cx="67.84" cy="215.10" r="1.50"/>
<circle cx="70.77" cy="216.40" r="1.50"/>
<circle cx="73.25" cy="217.60" r="1.50"/>
<circle cx="75.39" cy="219.08" r="1.50"/>
<circle cx="77.28" cy="220.05" r="1.50"/>
<circle cx="78.97" cy="220.92" r="1.50"/>
<circle cx="80.51" cy="221.86" r="1.70"/>
<circle cx="81.90" cy="222.36" r="1.70"/>
<circle cx="83.19" cy="223.13" r="1.70"/>
<circle cx="84.38" cy="223.66" r="1.70"/>
<circle cx="85.49" cy="224.45" r="1.70"/>
<circle cx="86.52" cy="225.09" r="1.70"/>
<circle cx="87.50" cy="225.37" r="1.70"/>
<circle cx="88.41" cy="226.12" r="1.70"/>
<circle cx="89.28" cy="226.55" r="1.70"/>
<circle cx="90.11" cy="226.89" r="1.70"/>
<circle cx="90.89" cy="227.15" r="1.70"/>
<circle cx="91.64" cy="227.90" r="1.70"/>
<circle cx="92.35" cy="228.15" r="1.70"/>
<circle cx="93.03" cy="228.49" r="1.70"/>
<circle cx="93.69" cy="228.96" r="1.70"/>
<circle cx="94.32" cy="229.32" r="1.70"/>
<circle cx="94.92" cy="229.78" r="1.70"/>
<circle cx="95.51" cy="229.86" r="1.70"/>
<circle cx="96.07" cy="230.40" r="1.70"/>
<circle cx="96.62" cy="230.75" r="1.70"/>
<circle cx="97.08" cy="231.02" r="1.70"/>
<circle cx="97.54" cy="231.12" r="1.70"/>
<circle cx="98.00" cy="231.34" r="1.70"/>
<circle cx="98.47" cy="231.78" r="1.70"/>
<circle cx="98.93" cy="231.96" r="1.70"/>
<circle cx="99.39" cy="232.24" r="1.70"/>
<circle cx="99.85" cy="232.64" r="1.70"/>
<circle cx="100.31" cy="232.70" r="1.70"/>
<circle cx="100.78" cy="232.70" r="1.70"/>
<circle cx="101.24" cy="233.10" r="1.70"/>
<circle cx="101.70" cy="233.16" r="1.70"/>
<circle cx="102.16" cy="233.64" r="1.70"/>
<circle cx="102.62" cy="233.80" r="1.70"/>
<circle cx="103.09" cy="233.91" r="1.70"/>
<circle cx="103.55" cy="234.18" r="1.70"/>
<circle cx="104.01" cy="234.48" r="1.70"/>
<circle cx="104.47" cy="234.61" r="1.70"/>
<circle cx="104.94" cy="234.94" r="1.70"/>
<circle cx="105.40" cy="235.01" r="1.70"/>
<circle cx="105.86" cy="235.33" r="1.70"/>
<circle cx="106.32" cy="235.58" r="1.70"/>
<circle cx="106.78" cy="235.81" r="1.70"/>
<circle cx="107.25" cy="235.79" r="1.70"/>
<circle cx="107.71" cy="236.15" r="1.70"/>
<circle cx="108.17" cy="236.08" r="1.70"/>
<circle cx="108.63" cy="236.37" r="1.70"/>
<circle cx="109.10" cy="236.49" r="1.70"/>
<circle cx="109.56" cy="237.00" r="1.70"/>
<circle cx="110.02" cy="236.98" r="1.70"/>
<circle cx="110.48" cy="237.31" r="1.70"/>
<circle cx="110.94" cy="237.50" r="1.70"/>
<circle cx="111.41" cy="237.73" r="1.70"/>
<circle cx="111.87" cy="237.88" r="1.70"/>
<circle cx="112.33" cy="238.17" r="1.70"/>
<circle cx="112.79" cy="238.54" r="1.70"/>
<circle cx="113.26" cy="238.57" r="1.70"/>
<circle cx="113.72" cy="238.83" r="1.70"/>
<circle cx="114.18" cy="239.08" r="1.70"/>
<circle cx="114.64" cy="239.17" r="1.70"/>
<circle cx="115.10" cy="239.27" r="1.70"/>
<circle cx="115.57" cy="239.55" r="1.70"/>
<circle cx="116.03" cy="239.92" r="1.70"/>
<circle cx="116.49" cy="239.86" r="1.70"/>
<circle cx="116.95" cy="240.17" r="1.70"/>
<circle cx="117.41" cy="240.54" r="1.70"/>
<circle cx="117.88" cy="240.73" r="1.70"/>
<circle cx="118.34" cy="240.86" r="1.70"/>
<circle cx="118.80" cy="241.15" r="1.70"/>
<circle cx="119.26" cy="241.29" r="1.70"/>
<circle cx="119.73" cy="241.37" r="1.70"/>
<circle cx="120.19" cy="241.54" r="1.70"/>
<circle cx="120.65" cy="241.84" r="1.70"/>
<circle cx="121.11" cy="242.20" r="1.70"/>
<circle cx="121.57" cy="242.26" r="1.70"/>
<circle cx="122.04" cy="242.44" r="1.70"/>
<circle cx="122.50" cy="242.66" r="1.70"/>
<circle cx="122.96" cy="242.79" r="1.70"/>
<circle cx="123.42" cy="243.14" r="1.70"/>
<circle cx="123.89" cy="243.24" r="1.70"/>
<circle cx="124.35" cy="243.61" r="1.70"/>
<circle cx="124.81" cy="243.54" r="1.70"/>
<circle cx="125.27" cy="244.02" r="1.70"/>
<circle cx="125.73" cy="244.13" r="1.70"/>
<circle cx="126.20" cy="244.21" r="1.70"/>
<circle cx="126.66" cy="244.69" r="1.70"/>
<circle cx="127.12" cy="244.79" r="1.70"/>
<circle cx="127.58" cy="244.81" r="1.70"/>
<circle cx="128.05" cy="245.15" r="1.70"/>
<circle cx="128.51" cy="245.48" r="1.70"/>
<circle cx="128.97" cy="245.61" r="1.70"/>
<circle cx="129.43" cy="245.94" r="1.70"/>
<circle cx="129.89" cy="246.15" r="1.70"/>
<circle cx="130.36" cy="246.35" r="1.70"/>
<circle cx="130.82" cy="246.52" r="1.70"/>
<circle cx="131.28" cy="246.83" r="1.70"/>
<circle cx="131.74" cy="246.97" r="1.70"/>
<circle cx="132.20" cy="247.16" r="1.70"/>
<circle cx="132.67" cy="247.12" r="1.70"/>
<circle cx="133.13" cy="247.62" r="1.70"/>
<circle cx="133.59" cy="247.87" r="1.70"/>
<circle cx="134.05" cy="247.92" r="1.70"/>
<circle cx="134.52" cy="248.11" r="1.70"/>
<circle cx="134.98" cy="248.56" r="1.70"/>
<circle cx="135.44" cy="248.40" r="1.70"/>
<circle cx="135.90" cy="248.83" r="1.70"/>
<circle cx="136.36" cy="249.24" r="1.70"/>
<circle cx="136.83" cy="249.11" r="1.70"/>
<circle cx="137.29" cy="249.48" r="1.70"/>
<circle cx="137.75" cy="249.81" r="1.70"/>
<circle cx="138.21" cy="249.82" r="1.70"/>
<circle cx="138.68" cy="250.09" r="1.70"/>
<circle cx="139.14" cy="250.34" r="1.70"/>
<circle cx="139.60" cy="250.36" r="1.70"/>
<circle cx="140.06" cy="250.65" r="1.70"/>
<circle cx="140.52" cy="250.90" r="1.70"/>
<circle cx="140.99" cy="251.16" r="1.70"/>
<circle cx="141.45" cy="251.29" r="1.70"/>
<circle cx="141.91" cy="251.49" r="1.70"/>
<circle cx="142.37" cy="251.62" r="1.70"/>
<circle cx="142.84" cy="251.90" r="1.70"/>
<circle cx="143.30" cy="252.24" r="1.70"/>
<circle cx="143.76" cy="252.38" r="1.70"/>
<circle cx="144.22" cy="252.51" r="1.70"/>
<circle cx="144.68" cy="252.73" r="1.70"/>
<circle cx="145.15" cy="253.31" r="1.70"/>
<circle cx="145.61" cy="253.38" r="1.70"/>
<circle cx="146.07" cy="253.56" r="1.70"/>
<circle cx="146.53" cy="253.47" r="1.70"/>
<circle cx="146.99" cy="254.02" r="1.70"/>
<circle cx="147.46" cy="254.24" r="1.70"/>
<circle cx="147.92" cy="254.59" r="1.70"/>
<circle cx="148.38" cy="254.71" r="1.70"/>
<circle cx="148.84" cy="254.90" r="1.70"/>
<circle cx="149.31" cy="255.20" r="1.70"/>
<circle cx="149.77" cy="255.19" r="1.70"/>
<circle cx="150.23" cy="255.74" r="1.70"/>
<circle cx="150.69" cy="255.91" r="1.70"/>
<circle cx="151.15" cy="256.06" r="1.70"/>
<circle cx="151.62" cy="256.51" r="1.70"/>
<circle cx="152.08" cy="256.82" r="1.70"/>
<circle cx="152.54" cy="256.75" r="1.70"/>
<circle cx="153.00" cy="257.08" r="1.70"/>
<circle cx="153.47" cy="257.44" r="1.70"/>
<circle cx="153.93" cy="257.69" r="1.70"/>
<circle cx="154.39" cy="257.90" r="1.70"/>
<circle cx="154.85" cy="258.11" r="1.70"/>
<circle cx="155.31" cy="258.68" r="1.70"/>
<circle cx="155.78" cy="258.85" r="1.70"/>
<circle cx="156.24" cy="258.90" r="1.70"/>
<circle cx="156.70" cy="259.16" r="1.70"/>
<circle cx="157.16" cy="259.74" r="1.70"/>
<circle cx="157.63" cy="259.95" r="1.70"/>
</g>
<g fill="none" stroke="#1a6cf5" stroke-width="0.8">
<circle cx="156.00" cy="260.01" r="1.20"/>
<circle cx="156.30" cy="259.56" r="1.20"/>
<circle cx="156.60" cy="258.68" r="1.20"/>
<circle cx="156.90" cy="259.58" r="1.20"/>
<circle cx="157.20" cy="258.23" r="1.20"/>
<circle cx="157.50" cy="259.30" r="1.20"/>
<circle cx="157.80" cy="259.92" r="1.20"/>
<circle cx="158.10" cy="260.47" r="1.20"/>
<circle cx="158.40" cy="259.86" r="1.20"/>
<circle cx="158.70" cy="260.43" r="1.20"/>
<circle cx="159.00" cy="260.99" r="1.20"/>
<circle cx="159.30" cy="261.13" r="1.20"/>
<circle cx="159.60" cy="261.49" r="1.20"/>
<circle cx="159.90" cy="261.40" r="1.20"/>
<circle cx="160.20" cy="261.24" r="1.20"/>
<circle cx="160.50" cy="262.17" r="1.20"/>
<circle cx="160.80" cy="261.87" r="1.20"/>
<circle cx="161.10" cy="261.47" r="1.20"/>
<circle cx="161.40" cy="261.80" r="1.20"/>
<circle cx="161.70" cy="262.42" r="1.20"/>
<circle cx="162.00" cy="262.54" r="1.20"/>
<circle cx="162.30" cy="262.92" r="1.20"/>
<circle cx="162.60" cy="263.01" r="1.20"/>
<circle cx="162.90" cy="263.34" r="1.20"/>
<circle cx="163.20" cy="263.32" r="1.20"/>
<circle cx="163.50" cy="262.72" r="1.20"/>
<circle cx="163.80" cy="264.12" r="1.20"/>
<circle cx="164.10" cy="264.78" r="1.20"/>
<circle cx="164.40" cy="264.54" r="1.20"/>
<circle cx="164.70" cy="264.29" r="1.20"/>
<circle cx="165.00" cy="264.97" r="1.20"/>
<circle cx="165.30" cy="264.12" r="1.20"/>
<circle cx="165.60" cy="263.62" r="1.20"/>
<circle cx="165.90" cy="265.31" r="1.20"/>
<circle cx="166.20" cy="264.75" r="1.20"/>
<circle cx="166.50" cy="266.26" r="1.20"/>
<circle cx="166.80" cy="265.04" r="1.20"/>
<circle cx="167.10" cy="264.01" r="1.20"/>
<circle cx="167.40" cy="265.49" r="1.20"/>
<circle cx="167.70" cy="267.83" r="1.20"/>
<circle cx="168.00" cy="266.45" r="1.20"/>
<circle cx="168.30" cy="265.83" r="1.20"/>
<circle cx="168.60" cy="266.55" r="1.20"/>
<circle cx="168.90" cy="267.87" r="1.20"/>
<circle cx="169.20" cy="268.07" r="1.20"/>
<circle cx="169.50" cy="268.02" r="1.20"/>
<circle cx="169.80" cy="269.41" r="1.20"/>
<circle cx="170.10" cy="268.95" r="1.20"/>
<circle cx="170.40" cy="268.52" r="1.20"/>
<circle cx="170.70" cy="269.32" r="1.20"/>
<circle cx="171.00" cy="270.55" r="1.20"/>
<circle cx="171.30" cy="270.15" r="1.20"/>
<circle cx="171.60" cy="270.44" r="1.20"/>
<circle cx="171.90" cy="268.62" r="1.20"/>
<circle cx="172.20" cy="269.77" r="1.20"/>
<circle cx="172.50" cy="270.88" r="1.20"/>
<circle cx="172.80" cy="270.08" r="1.20"/>
<circle cx="173.10" cy="271.73" r="1.20"/>
<circle cx="173.40" cy="271.48" r="1.20"/>
<circle cx="173.70" cy="272.07" r="1.20"/>
<circle cx="174.00" cy="271.10" r="1.20"/>
<circle cx="174.30" cy="274.39" r="1.20"/>
<circle cx="174.60" cy="273.21" r="1.20"/>
<circle cx="174.90" cy="271.81" r="1.20"/>
<circle cx="175.20" cy="272.40" r="1.20"/>
<circle cx="175.50" cy="275.61" r="1.20"/>
<circle cx="175.80" cy="272.37" r="1.20"/>
<circle cx="176.10" cy="274.10" r="1.20"/>
<circle cx="176.40" cy="274.50" r="1.20"/>
<circle cx="176.70" cy="273.54" r="1.20"/>
<circle cx="177.00" cy="272.27" r="1.20"/>
<circle cx="177.30" cy="274.27" r="1.20"/>
<circle cx="177.60" cy="274.76" r="1.20"/>
<circle cx="177.90" cy="276.07" r="1.20"/>
<circle cx="178.20" cy="275.87" r="1.20"/>
<circle cx="178.50" cy="275.08" r="1.20"/>
<circle cx="178.80" cy="276.52" r="1.20"/>
<circle cx="179.10" cy="276.35" r="1.20"/>
<circle cx="179.40" cy="276.12" r="1.20"/>
<circle cx="179.70" cy="276.16" r="1.20"/>
<circle cx="180.00" cy="275.96" r="1.20"/>
<circle cx="180.30" cy="277.68" r="1.20"/>
<circle cx="180.60" cy="275.18" r="1.20"/>
<circle cx="180.90" cy="276.10" r="1.20"/>
<circle cx="181.20" cy="277.40" r="1.20"/>
<circle cx="181.50" cy="275.18" r="1.20"/>
<circle cx="181.80" cy="277.18" r="1.20"/>
<circle cx="182.10" cy="274.67" r="1.20"/>
<circle cx="182.40" cy="277.24" r="1.20"/>
<circle cx="182.70" cy="279.77" r="1.20"/>
<circle cx="183.00" cy="280.06" r="1.20"/>
<circle cx="183.30" cy="279.18" r="1.20"/>
<circle cx="183.60" cy="279.11" r="1.20"/>
<circle cx="183.90" cy="277.05" r="1.20"/>
<circle cx="184.20" cy="283.78" r="1.20"/>
<circle cx="184.50" cy="281.44" r="1.20"/>
<circle cx="184.80" cy="282.95" r="1.20"/>
<circle cx="185.10" cy="279.08" r="1.20"/>
<circle cx="185.40" cy="280.83" r="1.20"/>
<circle cx="185.70" cy="277.50" r="1.20"/>
<circle cx="186.00" cy="283.55" r="1.20"/>
<circle cx="186.30" cy="284.23" r="1.20"/>
<circle cx="186.60" cy="277.94" r="1.20"/>
<circle cx="186.90" cy="282.53" r="1.20"/>
<circle cx="187.20" cy="284.48" r="1.20"/>
<circle cx="187.50" cy="278.88" r="1.20"/>
<circle cx="187.80" cy="278.93" r="1.20"/>
<circle cx="188.10" cy="281.08" r="1.20"/>
<circle cx="188.40" cy="282.47" r="1.20"/>
<circle cx="188.70" cy="280.66" r="1.20"/>
<circle cx="189.00" cy="284.79" r="1.20"/>
<circle cx="189.30" cy="285.69" r="1.20"/>
</g>
<path d="M75.00 221.40L190.00 273.30" stroke="#e63c14" stroke-width="1.15" fill="none"/>
<path d="M66.00 215.20L72.00 218.20L80.00 222.30L95.00 229.60L120.00 241.30L190.00 272.90" stroke="#111" stroke-width="1.20" fill="none" stroke-dasharray="2.1 2.4"/>
<line x1="96.70" y1="215.90" x2="171.00" y2="251.70" stroke="#1a1a1a" stroke-width="1.00"/>
<path d="M42.00 295.00L42.00 291.60M42.00 177.90L42.00 181.30M78.97 295.00L78.97 293.60M78.97 177.90L78.97 179.30M90.11 295.00L90.11 293.60M90.11 177.90L90.11 179.30M96.62 295.00L96.62 293.60M96.62 177.90L96.62 179.30M101.24 295.00L101.24 293.60M101.24 177.90L101.24 179.30M104.82 295.00L104.82 293.60M104.82 177.90L104.82 179.30M107.75 295.00L107.75 293.60M107.75 177.90L107.75 179.30M110.22 295.00L110.22 293.60M110.22 177.90L110.22 179.30M112.37 295.00L112.37 293.60M112.37 177.90L112.37 179.30M114.26 295.00L114.26 293.60M114.26 177.90L114.26 179.30M115.95 295.00L115.95 291.60M115.95 177.90L115.95 181.30M152.93 295.00L152.93 293.60M152.93 177.90L152.93 179.30M164.06 295.00L164.06 293.60M164.06 177.90L164.06 179.30M170.57 295.00L170.57 293.60M170.57 177.90L170.57 179.30M175.19 295.00L175.19 293.60M175.19 177.90L175.19 179.30M178.77 295.00L178.77 293.60M178.77 177.90L178.77 179.30M181.70 295.00L181.70 293.60M181.70 177.90L181.70 179.30M184.17 295.00L184.17 293.60M184.17 177.90L184.17 179.30M186.32 295.00L186.32 293.60M186.32 177.90L186.32 179.30M188.21 295.00L188.21 293.60M188.21 177.90L188.21 179.30M189.90 295.00L189.90 291.60M189.90 177.90L189.90 181.30M42.00 295.00L45.40 295.00M189.90 295.00L186.50 295.00M42.00 268.84L43.40 268.84M189.90 268.84L188.50 268.84M42.00 260.97L43.40 260.97M189.90 260.97L188.50 260.97M42.00 256.37L43.40 256.37M189.90 256.37L188.50 256.37M42.00 253.10L43.40 253.10M189.90 253.10L188.50 253.10M42.00 250.56L43.40 250.56M189.90 250.56L188.50 250.56M42.00 248.49L43.40 248.49M189.90 248.49L188.50 248.49M42.00 246.74L43.40 246.74M189.90 246.74L188.50 246.74M42.00 245.22L43.40 245.22M189.90 245.22L188.50 245.22M42.00 243.89L43.40 243.89M189.90 243.89L188.50 243.89M42.00 242.69L45.40 242.69M189.90 242.69L186.50 242.69M42.00 216.53L43.40 216.53M189.90 216.53L188.50 216.53M42.00 208.66L43.40 208.66M189.90 208.66L188.50 208.66M42.00 204.06L43.40 204.06M189.90 204.06L188.50 204.06M42.00 200.79L43.40 200.79M189.90 200.79L188.50 200.79M42.00 198.25L43.40 198.25M189.90 198.25L188.50 198.25M42.00 196.18L43.40 196.18M189.90 196.18L188.50 196.18M42.00 194.43L43.40 194.43M189.90 194.43L188.50 194.43M42.00 192.91L43.40 192.91M189.90 192.91L188.50 192.91M42.00 191.58L43.40 191.58M189.90 191.58L188.50 191.58M42.00 190.38L45.40 190.38M189.90 190.38L186.50 190.38" stroke="#444" stroke-width="0.55" fill="none"/>
<rect x="42.00" y="177.90" width="147.90" height="117.10" fill="none" stroke="#444" stroke-width="1.05"/>
<text transform="translate(36.10 194.78) scale(0.915 1)" text-anchor="end" font-size="10.40">10<tspan dx="-0.7" dy="-5.0" font-size="8.40">0</tspan></text>
<text transform="translate(36.10 247.09) scale(0.915 1)" text-anchor="end" font-size="10.40">10<tspan dx="-0.7" dy="-5.0" font-size="8.40">-2</tspan></text>
<text transform="translate(36.10 299.40) scale(0.915 1)" text-anchor="end" font-size="10.40">10<tspan dx="-0.7" dy="-5.0" font-size="8.40">-4</tspan></text>
<text transform="translate(42.30 309.10) scale(0.915 1)" text-anchor="middle" font-size="10.40">10<tspan dx="-0.7" dy="-5.0" font-size="8.40">0</tspan></text>
<text transform="translate(116.25 309.10) scale(0.915 1)" text-anchor="middle" font-size="10.40">10<tspan dx="-0.7" dy="-5.0" font-size="8.40">2</tspan></text>
<text transform="translate(190.20 309.10) scale(0.915 1)" text-anchor="middle" font-size="10.40">10<tspan dx="-0.7" dy="-5.0" font-size="8.40">4</tspan></text>
<text x="132.00" y="227.50" font-size="10.80" text-anchor="start">slope=-0.7</text>
<text x="66.00" y="273.60" font-size="10.80" text-anchor="start">α=2.7</text>
<path d="M363.55 239.11L363.55 243.08M362.05 239.11L365.05 239.11M362.05 243.08L365.05 243.08M366.63 240.33L366.63 246.46M365.13 240.33L368.13 240.33M365.13 246.46L368.13 246.46M369.71 241.32L369.71 251.23M368.21 241.32L371.21 241.32M368.21 251.23L371.21 251.23M372.78 242.31L372.78 257.63M371.28 242.31L374.28 242.31M371.28 257.63L374.28 257.63M375.86 243.28L375.86 265.62M374.36 243.28L377.36 243.28M374.36 265.62L377.36 265.62M378.94 243.77L378.94 274.76M377.44 243.77L380.44 243.77M377.44 274.76L380.44 274.76M382.01 245.61L382.01 286.88M380.51 245.61L383.51 245.61M380.51 286.88L383.51 286.88M385.09 246.34L385.09 295.00M383.59 246.34L386.59 246.34M383.59 295.00L386.59 295.00M388.17 246.86L388.17 295.00M386.67 246.86L389.67 246.86M386.67 295.00L389.67 295.00M391.25 247.03L391.25 295.00M389.75 247.03L392.75 247.03M389.75 295.00L392.75 295.00M394.32 248.59L394.32 295.00M392.82 248.59L395.82 248.59M392.82 295.00L395.82 295.00M397.40 248.00L397.40 295.00M395.90 248.00L398.90 248.00M395.90 295.00L398.90 295.00" stroke="#1a6cf5" stroke-width="0.8" fill="none"/>
<g fill="#1a6cf5" fill-opacity="0.3" stroke="#1a6cf5" stroke-width="1.1">
<circle cx="271.93" cy="203.80" r="1.60"/>
<circle cx="284.94" cy="209.70" r="1.60"/>
<circle cx="294.16" cy="210.20" r="1.60"/>
<circle cx="301.32" cy="211.90" r="1.60"/>
<circle cx="307.17" cy="214.90" r="1.60"/>
<circle cx="312.11" cy="216.90" r="1.60"/>
<circle cx="316.39" cy="219.10" r="1.60"/>
<circle cx="320.17" cy="220.60" r="1.60"/>
<circle cx="323.55" cy="222.00" r="1.60"/>
<circle cx="326.63" cy="223.64" r="1.60"/>
<circle cx="329.70" cy="225.03" r="1.60"/>
<circle cx="332.78" cy="226.55" r="1.60"/>
<circle cx="335.86" cy="227.92" r="1.60"/>
<circle cx="338.94" cy="228.97" r="1.60"/>
<circle cx="342.01" cy="230.54" r="1.60"/>
<circle cx="345.09" cy="231.91" r="1.60"/>
<circle cx="348.17" cy="233.37" r="1.60"/>
<circle cx="351.24" cy="235.00" r="1.60"/>
<circle cx="354.32" cy="236.51" r="1.60"/>
<circle cx="357.40" cy="238.09" r="1.60"/>
<circle cx="360.47" cy="239.30" r="1.60"/>
<circle cx="363.55" cy="240.87" r="1.60"/>
<circle cx="366.63" cy="242.62" r="1.60"/>
<circle cx="369.71" cy="244.14" r="1.60"/>
<circle cx="372.78" cy="245.66" r="1.60"/>
<circle cx="375.86" cy="247.16" r="1.60"/>
<circle cx="378.94" cy="248.17" r="1.60"/>
<circle cx="382.01" cy="250.54" r="1.60"/>
<circle cx="385.09" cy="251.80" r="1.60"/>
<circle cx="388.17" cy="252.85" r="1.60"/>
<circle cx="391.25" cy="253.55" r="1.60"/>
<circle cx="394.32" cy="255.64" r="1.60"/>
<circle cx="397.40" cy="278.60" r="1.60"/>
</g>
<path d="M303.00 216.64L306.15 217.76L309.29 218.90L312.44 220.05L315.59 221.22L318.73 222.40L321.88 223.59L325.03 224.80L328.17 226.03L331.32 227.26L334.47 228.51L337.61 229.78L340.76 231.06L343.91 232.35L347.05 233.66L350.20 234.98L353.35 236.32L356.49 237.67L359.64 239.03L362.79 240.41L365.93 241.80L369.08 243.21L372.23 244.63L375.37 246.06L378.52 247.51L381.67 248.97L384.81 250.45L387.96 251.94L391.11 253.45L394.25 254.97L397.40 256.50" stroke="#111" stroke-width="1.20" fill="none" stroke-dasharray="2.1 2.4"/>
<path d="M273.20 207.60L277.34 208.91L281.48 210.23L285.62 211.59L289.76 212.97L293.90 214.37L298.04 215.80L302.18 217.25L306.32 218.73L310.46 220.23L314.60 221.75L318.74 223.30L322.88 224.88L327.02 226.48L331.16 228.10L335.30 229.75L339.44 231.42L343.58 233.12L347.72 234.84L351.86 236.58L356.00 238.35L360.14 240.15L364.28 241.97L368.42 243.81L372.56 245.68L376.70 247.57L380.84 249.49L384.98 251.43L389.12 253.40L393.26 255.39L397.40 257.40" stroke="#e63c14" stroke-width="1.05" fill="none"/>
<line x1="307.30" y1="229.20" x2="371.30" y2="258.20" stroke="#1a1a1a" stroke-width="1.00"/>
<path d="M249.70 295.00L249.70 291.60M249.70 177.90L249.70 181.30M271.93 295.00L271.93 293.60M271.93 177.90L271.93 179.30M284.94 295.00L284.94 293.60M284.94 177.90L284.94 179.30M294.16 295.00L294.16 293.60M294.16 177.90L294.16 179.30M301.32 295.00L301.32 293.60M301.32 177.90L301.32 179.30M307.17 295.00L307.17 293.60M307.17 177.90L307.17 179.30M312.11 295.00L312.11 293.60M312.11 177.90L312.11 179.30M316.39 295.00L316.39 293.60M316.39 177.90L316.39 179.30M320.17 295.00L320.17 293.60M320.17 177.90L320.17 179.30M323.55 295.00L323.55 291.60M323.55 177.90L323.55 181.30M345.78 295.00L345.78 293.60M345.78 177.90L345.78 179.30M358.79 295.00L358.79 293.60M358.79 177.90L358.79 179.30M368.01 295.00L368.01 293.60M368.01 177.90L368.01 179.30M375.17 295.00L375.17 293.60M375.17 177.90L375.17 179.30M381.02 295.00L381.02 293.60M381.02 177.90L381.02 179.30M385.96 295.00L385.96 293.60M385.96 177.90L385.96 179.30M390.24 295.00L390.24 293.60M390.24 177.90L390.24 179.30M394.02 295.00L394.02 293.60M394.02 177.90L394.02 179.30M397.40 295.00L397.40 291.60M397.40 177.90L397.40 181.30M249.70 295.00L253.10 295.00M397.40 295.00L394.00 295.00M249.70 275.48L251.10 275.48M397.40 275.48L396.00 275.48M249.70 269.61L251.10 269.61M397.40 269.61L396.00 269.61M249.70 266.17L251.10 266.17M397.40 266.17L396.00 266.17M249.70 263.73L251.10 263.73M397.40 263.73L396.00 263.73M249.70 261.84L251.10 261.84M397.40 261.84L396.00 261.84M249.70 260.30L251.10 260.30M397.40 260.30L396.00 260.30M249.70 258.99L251.10 258.99M397.40 258.99L396.00 258.99M249.70 257.86L251.10 257.86M397.40 257.86L396.00 257.86M249.70 256.86L251.10 256.86M397.40 256.86L396.00 256.86M249.70 255.97L253.10 255.97M397.40 255.97L394.00 255.97M249.70 236.45L251.10 236.45M397.40 236.45L396.00 236.45M249.70 230.57L251.10 230.57M397.40 230.57L396.00 230.57M249.70 227.14L251.10 227.14M397.40 227.14L396.00 227.14M249.70 224.70L251.10 224.70M397.40 224.70L396.00 224.70M249.70 222.81L251.10 222.81M397.40 222.81L396.00 222.81M249.70 221.26L251.10 221.26M397.40 221.26L396.00 221.26M249.70 219.96L251.10 219.96M397.40 219.96L396.00 219.96M249.70 218.82L251.10 218.82M397.40 218.82L396.00 218.82M249.70 217.83L251.10 217.83M397.40 217.83L396.00 217.83M249.70 216.93L253.10 216.93M397.40 216.93L394.00 216.93M249.70 197.42L251.10 197.42M397.40 197.42L396.00 197.42M249.70 191.54L251.10 191.54M397.40 191.54L396.00 191.54M249.70 188.10L251.10 188.10M397.40 188.10L396.00 188.10M249.70 185.67L251.10 185.67M397.40 185.67L396.00 185.67M249.70 183.78L251.10 183.78M397.40 183.78L396.00 183.78M249.70 182.23L251.10 182.23M397.40 182.23L396.00 182.23M249.70 180.92L251.10 180.92M397.40 180.92L396.00 180.92M249.70 179.79L251.10 179.79M397.40 179.79L396.00 179.79M249.70 178.79L251.10 178.79M397.40 178.79L396.00 178.79M249.70 177.90L253.10 177.90M397.40 177.90L394.00 177.90" stroke="#111" stroke-width="0.55" fill="none"/>
<rect x="249.70" y="177.90" width="147.70" height="117.10" fill="none" stroke="#111" stroke-width="1.05"/>
<text transform="translate(243.80 182.30) scale(0.915 1)" text-anchor="end" font-size="10.40">10<tspan dx="-0.7" dy="-5.0" font-size="8.40">0</tspan></text>
<text transform="translate(243.80 221.33) scale(0.915 1)" text-anchor="end" font-size="10.40">10<tspan dx="-0.7" dy="-5.0" font-size="8.40">-2</tspan></text>
<text transform="translate(243.80 260.37) scale(0.915 1)" text-anchor="end" font-size="10.40">10<tspan dx="-0.7" dy="-5.0" font-size="8.40">-4</tspan></text>
<text transform="translate(243.80 299.40) scale(0.915 1)" text-anchor="end" font-size="10.40">10<tspan dx="-0.7" dy="-5.0" font-size="8.40">-6</tspan></text>
<text transform="translate(250.00 309.10) scale(0.915 1)" text-anchor="middle" font-size="10.40">10<tspan dx="-0.7" dy="-5.0" font-size="8.40">0</tspan></text>
<text transform="translate(323.85 309.10) scale(0.915 1)" text-anchor="middle" font-size="10.40">10<tspan dx="-0.7" dy="-5.0" font-size="8.40">1</tspan></text>
<text transform="translate(397.70 309.10) scale(0.915 1)" text-anchor="middle" font-size="10.40">10<tspan dx="-0.7" dy="-5.0" font-size="8.40">2</tspan></text>
<text x="293.80" y="262.80" font-size="10.80" text-anchor="start">slope=-1.7</text>
<text x="2.00" y="14.00" font-size="12.90" text-anchor="start">(a)</text>
<text x="206.70" y="14.00" font-size="12.90" text-anchor="start">(b)</text>
<text x="2.00" y="182.00" font-size="12.90" text-anchor="start">(c)</text>
<text x="206.70" y="182.00" font-size="12.90" text-anchor="start">(d)</text>
<text x="116.00" y="153.30" font-size="10.40" text-anchor="middle">t<tspan dy="2.8" font-size="8.70">d</tspan></text>
<text x="323.50" y="153.30" font-size="10.40" text-anchor="middle">t<tspan dy="2.8" font-size="8.70">d</tspan></text>
<text x="116.00" y="321.20" font-size="10.40" text-anchor="middle">t<tspan dy="2.8" font-size="8.70">d</tspan></text>
<text x="323.50" y="321.20" font-size="10.40" text-anchor="middle">t<tspan dy="2.8" font-size="8.70">d</tspan></text>
<text transform="translate(11.50 68.25) rotate(-90)" font-size="11.20" text-anchor="middle">A<tspan dy="3.0" font-size="8.80">0</tspan><tspan dy="-3.0" font-size="11.20">(t</tspan><tspan dy="3.0" font-size="8.80">d</tspan><tspan dy="-3.0" font-size="11.20">)</tspan></text>
<text transform="translate(11.50 236.25) rotate(-90)" font-size="11.20" text-anchor="middle">A<tspan dy="3.0" font-size="8.80">0</tspan><tspan dy="-3.0" font-size="11.20">(t</tspan><tspan dy="3.0" font-size="8.80">d</tspan><tspan dy="-3.0" font-size="11.20">)</tspan></text>
<text transform="translate(218.90 68.45) rotate(-90)" font-size="10.60" text-anchor="middle">A<tspan dy="3.0" font-size="8.60">0.002</tspan><tspan dy="-3.0" font-size="10.60">(t</tspan><tspan dy="3.0" font-size="8.60">d</tspan><tspan dy="-3.0" font-size="10.60">) - A</tspan><tspan dy="3.0" font-size="8.60">0</tspan><tspan dy="-3.0" font-size="10.60">(t</tspan><tspan dy="3.0" font-size="8.60">d</tspan><tspan dy="-3.0" font-size="10.60">)</tspan></text>
<text transform="translate(218.90 236.45) rotate(-90)" font-size="10.60" text-anchor="middle">A<tspan dy="3.0" font-size="8.60">0.002</tspan><tspan dy="-3.0" font-size="10.60">(t</tspan><tspan dy="3.0" font-size="8.60">d</tspan><tspan dy="-3.0" font-size="10.60">) - A</tspan><tspan dy="3.0" font-size="8.60">0</tspan><tspan dy="-3.0" font-size="10.60">(t</tspan><tspan dy="3.0" font-size="8.60">d</tspan><tspan dy="-3.0" font-size="10.60">)</tspan></text>
</svg>
</body></html>
